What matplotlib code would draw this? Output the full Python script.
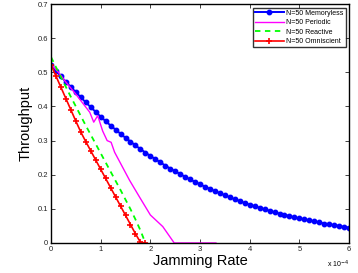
import matplotlib
matplotlib.use("Agg")
import matplotlib.pyplot as plt
import numpy as np

# jamming rate in units of 1e-4
x_mem = np.arange(61) / 10.0
memoryless = [
    0.522, 0.505, 0.488, 0.472, 0.457, 0.442, 0.427, 0.412, 0.398, 0.384,
    0.370, 0.357, 0.344, 0.332, 0.320, 0.308, 0.297, 0.286, 0.275, 0.265,
    0.255, 0.246, 0.236, 0.227, 0.218, 0.210, 0.202, 0.194, 0.186, 0.179,
    0.172, 0.165, 0.158, 0.152, 0.146, 0.140, 0.134, 0.128, 0.123, 0.117,
    0.112, 0.108, 0.103, 0.099, 0.094, 0.090, 0.086, 0.082, 0.079, 0.075,
    0.072, 0.069, 0.066, 0.063, 0.060, 0.057, 0.055, 0.052, 0.050, 0.047,
    0.045,
]

x_per = [0.0, 0.15, 0.28, 0.51, 0.78, 0.86, 0.94, 1.04, 1.13, 1.21, 1.28,
         1.58, 1.78, 2.0, 2.25, 2.48, 3.32]
periodic = [0.524, 0.500, 0.475, 0.434, 0.383, 0.354, 0.373, 0.328, 0.300,
            0.295, 0.266, 0.184, 0.135, 0.082, 0.048, 0.0, 0.0]

x_sub = np.arange(20) / 10.0
reactive = [0.545, 0.515, 0.486, 0.457, 0.428, 0.400, 0.372, 0.344, 0.317, 0.290,
            0.263, 0.236, 0.209, 0.182, 0.155, 0.127, 0.099, 0.069, 0.037, 0.0]
omniscient = [0.522, 0.489, 0.456, 0.423, 0.390, 0.357, 0.325, 0.297, 0.270, 0.243,
              0.216, 0.189, 0.162, 0.135, 0.108, 0.081, 0.054, 0.027, 0.002, 0.0]

labels = ["N=50 Memoryless", "N=50 Periodic", "N=50 Reactive", "N=50 Omniscient"]

plt.rcParams["font.family"] = ["Liberation Sans", "DejaVu Sans"]

fig = plt.figure(figsize=(3.58, 2.73), dpi=100)
ax = fig.add_axes([0.1425, 0.11, 0.8325, 0.875])

ax.plot(x_mem, memoryless, color="#0000ff", lw=1.4, marker="o", ms=3.2,
        mec="#0000ff", label=labels[0])
ax.plot(x_per, periodic, color="#ff00ff", lw=1.0, label=labels[1])
ax.plot(x_sub, reactive, color="#00ff00", lw=1.3, ls=(0, (3, 2.5)), label=labels[2])
ax.plot(x_sub, omniscient, color="#ff0000", lw=1.2, marker="+", ms=4.5,
        mew=1.2, label=labels[3])

ax.set_xlim(0, 6)
ax.set_ylim(0, 0.7)
ax.set_xticks(range(7))
ax.set_xticklabels([str(i) for i in range(7)])
ax.set_yticks([0, 0.1, 0.2, 0.3, 0.4, 0.5, 0.6, 0.7])
ax.set_yticklabels(["0", "0.1", "0.2", "0.3", "0.4", "0.5", "0.6", "0.7"])
ax.tick_params(direction="in", length=3, width=0.6, labelsize=5.5,
               top=True, right=True, pad=2, colors="#222222")
for s in ax.spines.values():
    s.set_linewidth(1.0)

ax.set_xlabel("Jamming Rate", fontsize=10.5, labelpad=1)
ax.set_ylabel("Throughput", fontsize=10.5, labelpad=4)
ax.text(1.0, -0.09, "x 10$^{-4}$", transform=ax.transAxes, fontsize=5,
        ha="right", va="center")

leg = ax.legend(loc="upper right", fontsize=5, frameon=True, fancybox=False,
                edgecolor="black", handlelength=4.2, handletextpad=0.3,
                labelspacing=0.35, borderpad=0.3, borderaxespad=0.5)
leg.get_frame().set_linewidth(1.0)

fig.savefig("out.png", dpi=100)
